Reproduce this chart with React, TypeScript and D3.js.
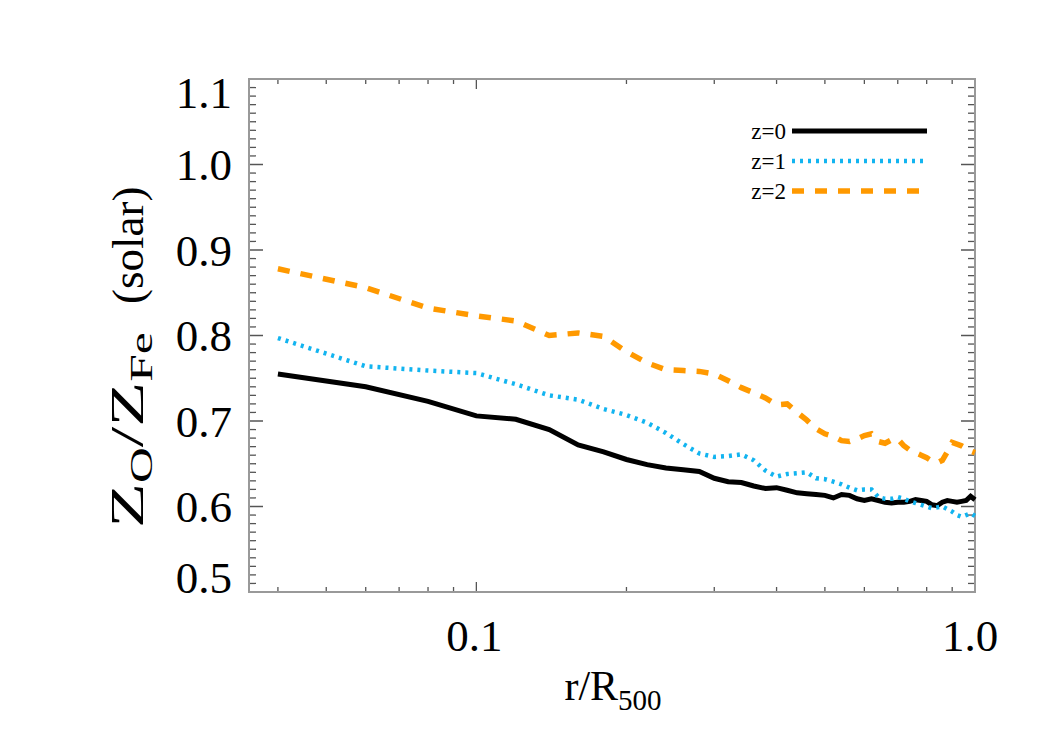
import React from "react";
import * as d3 from "d3";

const radius = [0.04, 0.06, 0.08, 0.10, 0.12, 0.14, 0.16, 0.18, 0.20, 0.22, 0.24, 0.26, 0.28, 0.30, 0.32, 0.34, 0.36, 0.38, 0.40, 0.42, 0.44, 0.46, 0.48, 0.50, 0.52, 0.54, 0.56, 0.58, 0.60, 0.62, 0.64, 0.66, 0.68, 0.70, 0.72, 0.74, 0.76, 0.78, 0.80, 0.82, 0.84, 0.86, 0.88, 0.90, 0.92, 0.94, 0.96, 0.98, 1.00];

const z0 = [0.755, 0.740, 0.723, 0.706, 0.702, 0.690, 0.672, 0.664, 0.655, 0.649, 0.645, 0.643, 0.641, 0.633, 0.629, 0.628, 0.624, 0.621, 0.622, 0.619, 0.616, 0.615, 0.614, 0.613, 0.610, 0.614, 0.613, 0.609, 0.607, 0.609, 0.607, 0.605, 0.604, 0.605, 0.605, 0.606, 0.608, 0.607, 0.606, 0.602, 0.601, 0.605, 0.607, 0.606, 0.605, 0.606, 0.607, 0.612, 0.608];

const z1 = [0.797, 0.764, 0.759, 0.756, 0.743, 0.730, 0.725, 0.714, 0.707, 0.698, 0.686, 0.673, 0.662, 0.658, 0.659, 0.661, 0.654, 0.642, 0.635, 0.638, 0.639, 0.640, 0.633, 0.632, 0.629, 0.626, 0.622, 0.619, 0.620, 0.620, 0.611, 0.609, 0.609, 0.611, 0.609, 0.606, 0.604, 0.602, 0.600, 0.598, 0.599, 0.600, 0.597, 0.594, 0.590, 0.588, 0.590, 0.592, 0.589];

const z2 = [0.878, 0.856, 0.832, 0.823, 0.817, 0.800, 0.803, 0.799, 0.781, 0.768, 0.760, 0.759, 0.758, 0.755, 0.747, 0.739, 0.733, 0.727, 0.719, 0.720, 0.710, 0.701, 0.691, 0.685, 0.682, 0.677, 0.676, 0.679, 0.683, 0.685, 0.676, 0.674, 0.678, 0.679, 0.671, 0.666, 0.663, 0.660, 0.657, 0.653, 0.651, 0.654, 0.664, 0.675, 0.673, 0.671, 0.668, 0.665, 0.663];

const seriesNames = ["z=0", "z=1", "z=2"];
const seriesColors = ["#000000", "#12b4f0", "#ff9900"];
const seriesDash = ["none", "3 5", "12 11"];
const seriesWidth = [5, 4.5, 5.5];

const yTickValues = [0.5, 0.6, 0.7, 0.8, 0.9, 1.0, 1.1];
const yTickLabels = ["0.5", "0.6", "0.7", "0.8", "0.9", "1.0", "1.1"];
const xTickValues = [0.1, 1.0];
const xTickLabels = ["0.1", "1.0"];
const xMinorValues = [0.04, 0.05, 0.06, 0.07, 0.08, 0.09, 0.2, 0.3, 0.4, 0.5, 0.6, 0.7, 0.8, 0.9];

const L = 249, R = 975, T = 79, B = 592;
const FONT = "'Liberation Serif', 'Times New Roman', serif";

export default function App() {
  const x = d3.scaleLog().domain([0.035, 1.0]).range([L, R]);
  const y = d3.scaleLinear().domain([0.5, 1.1]).range([B, T]);
  const allSeries = [z0, z1, z2];
  const line = d3.line<number>().x((_, i) => x(radius[i])).y((d) => y(d));

  const yMinor: number[] = [];
  for (let k = 0; k <= 60; k++) {
    if (k % 10 !== 0) yMinor.push(0.5 + k * 0.01);
  }

  const tickColor = "#555";
  const labelOffset = (v: number) => (v === 1.1 ? 13 : v === 0.5 ? -15 : 0);

  return (
    <svg width={1050} height={750} style={{ position: "absolute", left: 0, top: 0, background: "#fff" }}>
      <rect x={0} y={0} width={1050} height={750} fill="#fff" />
      {yTickValues.map((v) => (
        <g key={"ym" + v}>
          <line x1={L} x2={L + 14} y1={y(v)} y2={y(v)} stroke={tickColor} strokeWidth={1.5} />
          <line x1={R} x2={R - 14} y1={y(v)} y2={y(v)} stroke={tickColor} strokeWidth={1.5} />
        </g>
      ))}
      {yMinor.map((v) => (
        <g key={"yn" + v}>
          <line x1={L} x2={L + 7} y1={y(v)} y2={y(v)} stroke={tickColor} strokeWidth={1.3} />
          <line x1={R} x2={R - 7} y1={y(v)} y2={y(v)} stroke={tickColor} strokeWidth={1.3} />
        </g>
      ))}
      {xTickValues.map((v) => (
        <g key={"xm" + v}>
          <line x1={x(v)} x2={x(v)} y1={B} y2={B - 10} stroke={tickColor} strokeWidth={1.3} />
          <line x1={x(v)} x2={x(v)} y1={T} y2={T + 10} stroke={tickColor} strokeWidth={1.3} />
        </g>
      ))}
      {xMinorValues.map((v) => (
        <g key={"xn" + v}>
          <line x1={x(v)} x2={x(v)} y1={B} y2={B - 5} stroke={tickColor} strokeWidth={1.3} />
          <line x1={x(v)} x2={x(v)} y1={T} y2={T + 5} stroke={tickColor} strokeWidth={1.3} />
        </g>
      ))}
      <rect x={L} y={T} width={R - L} height={B - T} fill="none" stroke="#999" strokeWidth={2} />

      {allSeries.map((s, i) => (
        <path key={"s" + i} d={line(s) || ""} fill="none" stroke={seriesColors[i]} strokeWidth={seriesWidth[i]}
          strokeDasharray={seriesDash[i]} strokeLinejoin="miter" />
      ))}

      {yTickValues.map((v, i) => (
        <text key={"yl" + v} x={232} y={y(v) + labelOffset(v)} dy="0.35em" textAnchor="end"
          fontFamily={FONT} fontSize={45} fill="#000">{yTickLabels[i]}</text>
      ))}
      {xTickValues.map((v, i) => (
        <text key={"xl" + v} x={x(v) - (v === 1.0 ? 5 : 2)} y={651} textAnchor="middle"
          fontFamily={FONT} fontSize={45} fill="#000">{xTickLabels[i]}</text>
      ))}

      <text x={613} y={700} textAnchor="middle" fontFamily={FONT} fontSize={42} fill="#000">
        r/R<tspan fontSize={29} dy={10}>500</tspan>
      </text>
      <text transform="translate(143,0) rotate(-90) translate(-528,0) scale(1.6,1)"
        fontFamily={FONT} fontSize={46} fill="#000">
        Z<tspan fontSize={31} dy={9}>O</tspan><tspan dy={-9}>/Z</tspan><tspan fontSize={31} dy={9}>Fe</tspan>
      </text>
      <text transform="translate(143,0) rotate(-90) translate(-304,0)"
        fontFamily={FONT} fontSize={45} fill="#000">(solar)</text>

      {seriesNames.map((n, i) => (
        <g key={"lg" + i}>
          <text x={786} y={131 + i * 30 + 7.5} textAnchor="end" fontFamily={FONT} fontSize={23} fill="#000">{n}</text>
          <line x1={792} x2={927} y1={131 + i * 30} y2={131 + i * 30} stroke={seriesColors[i]}
            strokeWidth={seriesWidth[i]} strokeDasharray={seriesDash[i]} />
        </g>
      ))}
    </svg>
  );
}
